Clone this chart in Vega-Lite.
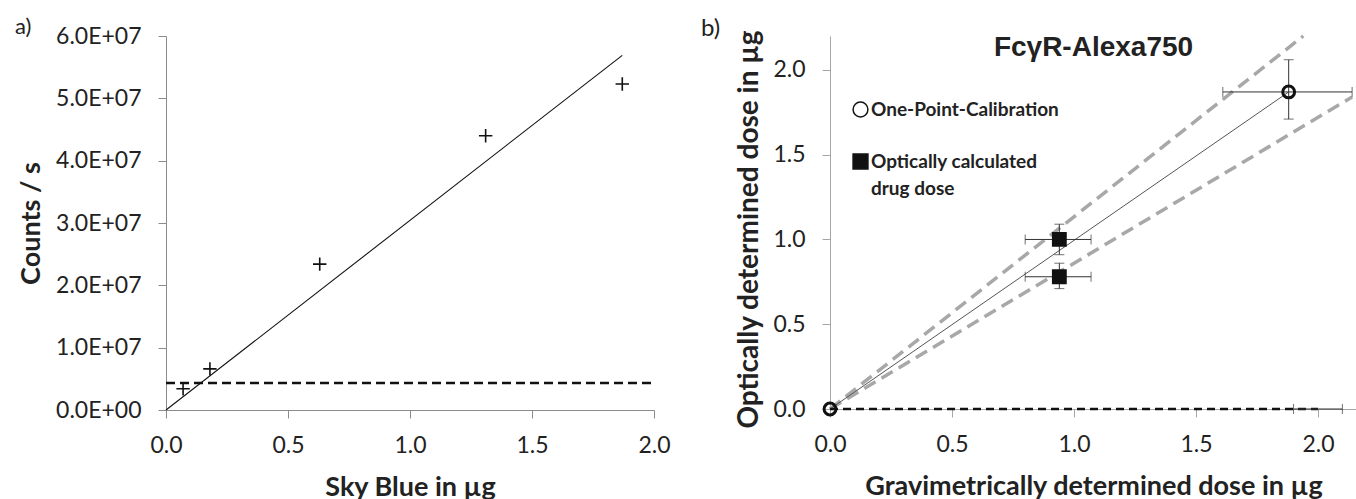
{
  "$schema": "https://vega.github.io/schema/vega-lite/v6.json",
  "background": "white",
  "autosize": {"type": "pad"},
  "padding": {"left": 15, "top": 16, "right": 0, "bottom": 0},
  "spacing": 176,
  "bounds": "flush",
  "resolve": {
    "scale": {"shape": "independent", "fill": "independent"},
    "legend": {"shape": "independent", "fill": "independent"}
  },
  "config": {
    "view": {"stroke": null},
    "font": "Lato",
    "axis": {
      "grid": false,
      "domainColor": "#8c8c8c",
      "tickColor": "#8c8c8c",
      "tickSize": 8,
      "labelFont": "Lato",
      "labelFontSize": 23,
      "labelColor": "#222222",
      "titleFont": "Lato",
      "titleFontWeight": "bold",
      "titleFontSize": 27,
      "titleColor": "#222222",
      "labelFlush": false,
      "labelOverlap": false
    }
  },
  "datasets": {
    "a_points": [
      {"ug": 0.07, "counts": 3400000},
      {"ug": 0.18, "counts": 6600000},
      {"ug": 0.63, "counts": 23400000},
      {"ug": 1.31, "counts": 44000000},
      {"ug": 1.87, "counts": 52300000}
    ],
    "a_fit": [
      {"ug": 0, "counts": 0},
      {"ug": 1.87, "counts": 56900000}
    ],
    "a_limit": [
      {"ug": 0, "counts": 4350000},
      {"ug": 2.0, "counts": 4350000}
    ],
    "b_bands": [
      {"band": "upper", "grav": 0, "opt": 0},
      {"band": "upper", "grav": 1.94, "opt": 2.2},
      {"band": "lower", "grav": 0, "opt": 0},
      {"band": "lower", "grav": 2.14, "opt": 1.84}
    ],
    "b_fit": [
      {"grav": 0, "opt": 0},
      {"grav": 1.88, "opt": 1.87}
    ],
    "b_base": [
      {"grav": 0, "opt": 0},
      {"grav": 2.0, "opt": 0}
    ],
    "b_xerr": [
      {"opt": 1.87, "lo": 1.61, "hi": 2.14},
      {"opt": 1.0, "lo": 0.8, "hi": 1.07},
      {"opt": 0.78, "lo": 0.8, "hi": 1.07},
      {"opt": 0, "lo": 1.9, "hi": 2.1}
    ],
    "b_yerr": [
      {"grav": 1.88, "lo": 1.71, "hi": 2.06},
      {"grav": 0.94, "lo": 0.91, "hi": 1.09},
      {"grav": 0.94, "lo": 0.71, "hi": 0.86}
    ],
    "b_points": [
      {"series": "One-Point-Calibration", "grav": 0, "opt": 0},
      {"series": "One-Point-Calibration", "grav": 1.88, "opt": 1.87},
      {"series": "Optically calculated drug dose", "grav": 0.94, "opt": 1.0},
      {"series": "Optically calculated drug dose", "grav": 0.94, "opt": 0.78}
    ],
    "b_label": [
      {"label": "FcγR-Alexa750"}
    ]
  },
  "hconcat": [
    {
      "width": 488,
      "height": 374,
      "title": {"text": "a)", "anchor": "start", "frame": "group", "dx": -151, "offset": -14, "fontSize": 22, "fontWeight": "normal", "font": "Lato", "color": "#222222"},
      "encoding": {
        "x": {
          "field": "ug", "type": "quantitative",
          "scale": {"domain": [0, 2], "nice": false},
          "axis": {"values": [0, 0.5, 1, 1.5, 2], "format": ".1f", "labelPadding": 16, "titlePadding": 17},
          "title": "Sky Blue in µg"
        },
        "y": {
          "field": "counts", "type": "quantitative",
          "scale": {"domain": [0, 60000000], "nice": false},
          "axis": {
            "values": [0, 10000000, 20000000, 30000000, 40000000, 50000000, 60000000],
            "labelExpr": "datum.value == 0 ? '0.0E+00' : format(datum.value / 10000000, '.1f') + 'E+07'",
            "labelPadding": 17,
            "titlePadding": 10
          },
          "title": "Counts / s"
        }
      },
      "layer": [
        {
          "data": {"name": "a_limit"},
          "mark": {"type": "line", "color": "#111111", "strokeWidth": 2.5, "strokeDash": [9, 5]}
        },
        {
          "data": {"name": "a_fit"},
          "mark": {"type": "line", "color": "#111111", "strokeWidth": 1.1}
        },
        {
          "data": {"name": "a_points"},
          "mark": {"type": "point", "shape": "M-1,0H1M0,-1V1", "size": 180, "filled": false, "stroke": "#111111", "strokeWidth": 1.6, "opacity": 1}
        }
      ]
    },
    {
      "width": 527,
      "height": 373,
      "title": {"text": "b)", "anchor": "start", "frame": "group", "dx": -129, "offset": -14, "dy": -2, "fontSize": 24, "fontWeight": "normal", "font": "Lato", "color": "#222222"},
      "resolve": {
        "scale": {"shape": "shared", "fill": "shared"},
        "legend": {"shape": "shared", "fill": "shared"}
      },
      "layer": [
        {
          "data": {"name": "b_bands"},
          "mark": {"type": "line", "color": "#a8a8a8", "strokeWidth": 3.5, "strokeDash": [13, 7]},
          "encoding": {
            "x": {
              "field": "grav", "type": "quantitative",
              "scale": {"domain": [0, 2.16], "nice": false},
              "axis": {"values": [0, 0.5, 1, 1.5, 2], "format": ".1f", "labelPadding": 16, "titlePadding": 17, "domainColor": "#a6a6a6", "tickColor": "#a6a6a6"},
              "title": "Gravimetrically determined dose in µg"
            },
            "y": {
              "field": "opt", "type": "quantitative",
              "scale": {"domain": [0, 2.2], "nice": false},
              "axis": {"values": [0, 0.5, 1, 1.5, 2], "format": ".1f", "labelPadding": 17, "titlePadding": 9, "titleFontSize": 28, "titleY": 193, "domainColor": "#a6a6a6", "tickColor": "#a6a6a6"},
              "title": "Optically determined dose in µg"
            },
            "detail": {"field": "band"}
          }
        },
        {
          "data": {"name": "b_fit"},
          "mark": {"type": "line", "color": "#555555", "strokeWidth": 1},
          "encoding": {
            "x": {"field": "grav", "type": "quantitative", "title": "Gravimetrically determined dose in µg"},
            "y": {"field": "opt", "type": "quantitative", "title": "Optically determined dose in µg"}
          }
        },
        {
          "data": {"name": "b_base"},
          "mark": {"type": "line", "color": "#111111", "strokeWidth": 2.5, "strokeDash": [8, 5]},
          "encoding": {
            "x": {"field": "grav", "type": "quantitative", "title": "Gravimetrically determined dose in µg"},
            "y": {"field": "opt", "type": "quantitative", "title": "Optically determined dose in µg"}
          }
        },
        {
          "data": {"name": "b_xerr"},
          "mark": {"type": "errorbar", "ticks": true, "size": 10, "thickness": 1, "color": "#333333"},
          "encoding": {
            "x": {"field": "lo", "type": "quantitative", "title": "Gravimetrically determined dose in µg"},
            "x2": {"field": "hi"},
            "y": {"field": "opt", "type": "quantitative", "title": "Optically determined dose in µg"}
          }
        },
        {
          "data": {"name": "b_yerr"},
          "mark": {"type": "errorbar", "ticks": true, "size": 10, "thickness": 1, "color": "#333333"},
          "encoding": {
            "y": {"field": "lo", "type": "quantitative", "title": "Optically determined dose in µg"},
            "y2": {"field": "hi"},
            "x": {"field": "grav", "type": "quantitative", "title": "Gravimetrically determined dose in µg"}
          }
        },
        {
          "data": {"name": "b_points"},
          "mark": {"type": "point", "size": 140, "stroke": "#111111", "strokeWidth": 3, "opacity": 1, "fillOpacity": 1},
          "encoding": {
            "x": {"field": "grav", "type": "quantitative", "title": "Gravimetrically determined dose in µg"},
            "y": {"field": "opt", "type": "quantitative", "title": "Optically determined dose in µg"},
            "shape": {
              "field": "series", "type": "nominal",
              "scale": {"domain": ["One-Point-Calibration", "Optically calculated drug dose"], "range": ["circle", "square"]},
              "legend": {
                "orient": "none", "legendX": 21, "legendY": 64, "title": null,
                "labelFont": "Lato", "labelFontSize": 19, "labelFontWeight": "bold", "labelColor": "#222222",
                "labelExpr": "datum.label == 'Optically calculated drug dose' ? ['Optically calculated', 'drug dose'] : datum.label",
                "labelBaseline": "alphabetic",
                "labelLimit": 400,
                "labelOffset": 1,
                "symbolSize": 220, "symbolStrokeWidth": 1.5, "symbolStrokeColor": "#111111", "symbolOpacity": 1,
                "rowPadding": 31,
                "encode": {
                  "labels": {"update": {"dy": {"value": 6}, "lineHeight": {"value": 27}}},
                  "symbols": {"update": {"stroke": {"value": "#111111"}, "strokeWidth": {"value": 1.5}}}
                }
              }
            },
            "fill": {
              "field": "series", "type": "nominal",
              "scale": {"domain": ["One-Point-Calibration", "Optically calculated drug dose"], "range": ["transparent", "#111111"]},
              "legend": {
                "orient": "none", "legendX": 21, "legendY": 64, "title": null,
                "labelFont": "Lato", "labelFontSize": 19, "labelFontWeight": "bold", "labelColor": "#222222",
                "labelExpr": "datum.label == 'Optically calculated drug dose' ? ['Optically calculated', 'drug dose'] : datum.label",
                "labelBaseline": "alphabetic",
                "labelLimit": 400,
                "labelOffset": 1,
                "symbolSize": 220, "symbolStrokeWidth": 1.5, "symbolStrokeColor": "#111111", "symbolOpacity": 1,
                "rowPadding": 31,
                "encode": {
                  "labels": {"update": {"dy": {"value": 6}, "lineHeight": {"value": 27}}},
                  "symbols": {"update": {"stroke": {"value": "#111111"}, "strokeWidth": {"value": 1.5}}}
                }
              }
            }
          }
        },
        {
          "data": {"name": "b_label"},
          "mark": {"type": "text", "font": "Liberation Sans", "fontWeight": "bold", "fontSize": 28, "color": "#222222", "align": "center", "baseline": "middle"},
          "encoding": {
            "x": {"datum": 1.08, "type": "quantitative"},
            "y": {"datum": 2.13, "type": "quantitative"},
            "text": {"field": "label"}
          }
        }
      ]
    }
  ]
}
